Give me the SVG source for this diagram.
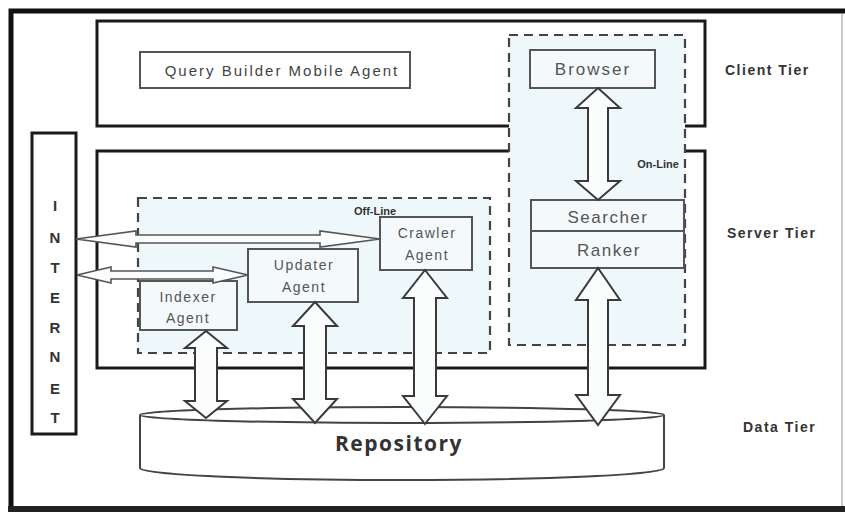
<svg xmlns="http://www.w3.org/2000/svg" width="845" height="512" viewBox="0 0 845 512">
<defs>
<style>
.frame{fill:none;stroke:#111;stroke-width:5}
.tier{fill:#fff;stroke:#1a1a1a;stroke-width:3}
.zone{fill:#eef7f9;stroke:#444;stroke-width:2.2;stroke-dasharray:9 6}
.box{fill:#f4fafb;stroke:#555;stroke-width:2}
.arrow{fill:#fbfdfd;stroke:#3a3a3a;stroke-width:2;stroke-linejoin:miter}
.harrow{fill:#fbfdfd;stroke:#555;stroke-width:1.6}
.t{font-family:"Liberation Sans",Arial,sans-serif;fill:#555;text-anchor:middle;letter-spacing:1.5px}
.lbl{font-family:"Liberation Sans",Arial,sans-serif;font-weight:bold;fill:#333}
.tier-lbl{font-family:"Liberation Sans",Arial,sans-serif;font-weight:bold;fill:#333;font-size:14px;letter-spacing:1.5px}
.big{font-family:"Open Sans","Liberation Sans",sans-serif;font-weight:bold;fill:#333;text-anchor:middle;letter-spacing:1.5px}
</style>
</defs>
<rect width="845" height="512" fill="#fff"/>
<g id="frame">
<path class="frame" d="M11,509 L11,11 L845,11"/>
<path d="M8,509 L845,509" stroke="#222" stroke-width="6"/>
<path d="M842,14 L842,506" stroke="#bbb" stroke-width="1.5"/>
</g>
<g id="client-tier">
<rect class="tier" x="97" y="21" width="608" height="105"/>
</g>
<g id="server-tier">
<rect class="tier" x="97" y="151" width="608" height="217"/>
</g>
<g id="online-zone">
<rect class="zone" x="509" y="35" width="176" height="310"/>
<text class="lbl" x="658" y="168" font-size="11" text-anchor="middle">On-Line</text>
</g>
<g id="offline-zone">
<rect class="zone" x="138" y="198" width="352" height="155"/>
<text class="lbl" x="375" y="215" font-size="11" text-anchor="middle">Off-Line</text>
</g>
<g id="query-builder">
<rect class="box" x="140" y="52" width="270" height="36" style="fill:#fff"/>
<text class="t" x="282" y="76" font-size="15" style="fill:#444;letter-spacing:2px">Query Builder Mobile Agent</text>
</g>
<g id="browser">
<rect class="box" x="530" y="50" width="125" height="38"/>
<text class="t" x="593" y="75" font-size="17" style="letter-spacing:2px">Browser</text>
</g>
<g id="searcher-ranker">
<rect class="box" x="531" y="200" width="153" height="68"/>
<line x1="531" y1="231" x2="684" y2="231" stroke="#555" stroke-width="2"/>
<text class="t" x="608" y="223" font-size="17">Searcher</text>
<text class="t" x="609" y="256" font-size="17">Ranker</text>
</g>
<g id="crawler-agent">
<rect class="box" x="380" y="217" width="92" height="53"/>
<text class="t" x="427" y="238" font-size="14">Crawler</text>
<text class="t" x="427" y="260" font-size="14">Agent</text>
</g>
<g id="updater-agent">
<rect class="box" x="248" y="249" width="110" height="53"/>
<text class="t" x="304" y="270" font-size="14">Updater</text>
<text class="t" x="304" y="292" font-size="14">Agent</text>
</g>
<g id="indexer-agent">
<rect class="box" x="140" y="281" width="97" height="49"/>
<text class="t" x="188" y="302" font-size="14">Indexer</text>
<text class="t" x="188" y="323" font-size="14">Agent</text>
</g>
<g id="internet">
<rect x="32" y="133" width="44" height="301" fill="#fff" stroke="#1a1a1a" stroke-width="3"/>
<g class="lbl" font-size="15" text-anchor="middle">
<text x="55" y="211">I</text>
<text x="55" y="243">N</text>
<text x="55" y="273">T</text>
<text x="55" y="303">E</text>
<text x="55" y="333">R</text>
<text x="55" y="362">N</text>
<text x="55" y="394">E</text>
<text x="55" y="423">T</text>
</g>
</g>
<g id="repository">
<path d="M140,415 L140,468 A262,12 0 0 0 664,468 L664,415" fill="#fff" stroke="#444" stroke-width="2"/>
<ellipse cx="402" cy="415" rx="262" ry="8" fill="#fff" stroke="#444" stroke-width="2"/>
<text class="big" x="399" y="451" font-size="21">Repository</text>
</g>
<g id="connectors">
<polygon class="harrow" points="76,239 136,231 136,235 320,235 320,231 380,239 320,247 320,243 136,243 136,247"/>
<polygon class="harrow" points="77,275 111,267 111,271 213,271 213,267 248,275 213,283 213,279 111,279 111,283"/>
<polygon class="arrow" points="206,331 227,348 217,348 217,401 227,401 206,418 185,401 195,401 195,348 185,348"/>
<polygon class="arrow" points="315,302 337,326 326,326 326,399 337,399 315,423 293,399 304,399 304,326 293,326"/>
<polygon class="arrow" points="425,270 447,298 436,298 436,396 447,396 425,424 403,396 414,396 414,298 403,298"/>
<polygon class="arrow" points="598,88 620,108 608,108 608,181 620,181 598,200 576,181 588,181 588,108 576,108"/>
<polygon class="arrow" points="598,268 620,300 608,300 608,395 620,395 598,425 576,395 588,395 588,300 576,300"/>
</g>
<g id="tier-labels">
<text class="tier-lbl" x="725" y="75">Client Tier</text>
<text class="tier-lbl" x="727" y="238">Server Tier</text>
<text class="tier-lbl" x="743" y="432">Data Tier</text>
</g>
</svg>
